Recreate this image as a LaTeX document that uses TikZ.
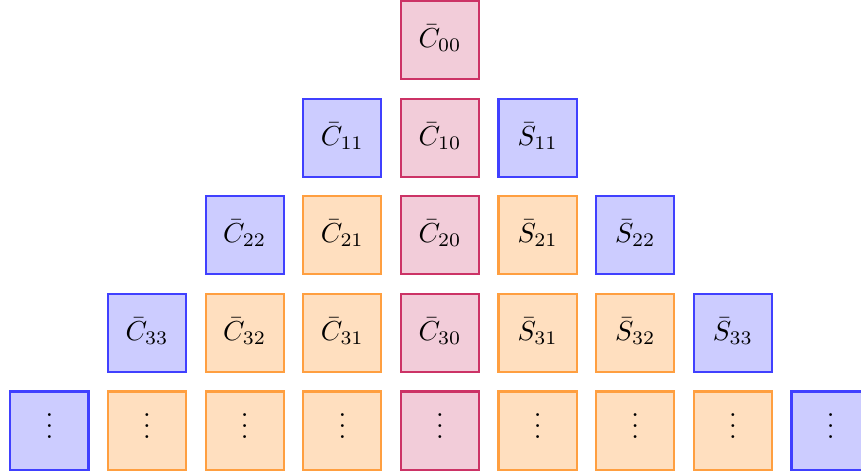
\documentclass[tikz,border=0pt]{standalone}
\usepackage{amsmath,amssymb}

\begin{document}
\begin{tikzpicture}[x=1cm,y=1cm]
\tikzset{
  cell/.style={rectangle,draw,thick,minimum size=1cm,inner sep=0pt,text height=1.5ex,text depth=.25ex},
  centercell/.style={cell,draw=purple!80,fill=purple!20},
  edgecell/.style={cell,draw=blue!75,fill=blue!20},
  innercell/.style={cell,draw=orange!75,fill=orange!25}
}
\useasboundingbox (-5.632,-5.555) rectangle (5.389,0.512);
% row 0
\node[centercell] (n_c00) at (0.00,0.00) {$\bar{C}_{00}$};
% row 1
\node[edgecell] (n_c11) at (-1.25,-1.25) {$\bar{C}_{11}$};
\node[centercell] (n_c10) at (0.00,-1.25) {$\bar{C}_{10}$};
\node[edgecell] (n_s11) at (1.25,-1.25) {$\bar{S}_{11}$};
% row 2
\node[edgecell] (n_c22) at (-2.50,-2.50) {$\bar{C}_{22}$};
\node[innercell] (n_c21) at (-1.25,-2.50) {$\bar{C}_{21}$};
\node[centercell] (n_c20) at (0.00,-2.50) {$\bar{C}_{20}$};
\node[innercell] (n_s21) at (1.25,-2.50) {$\bar{S}_{21}$};
\node[edgecell] (n_s22) at (2.50,-2.50) {$\bar{S}_{22}$};
% row 3
\node[edgecell] (n_c33) at (-3.75,-3.75) {$\bar{C}_{33}$};
\node[innercell] (n_c32) at (-2.50,-3.75) {$\bar{C}_{32}$};
\node[innercell] (n_c31) at (-1.25,-3.75) {$\bar{C}_{31}$};
\node[centercell] (n_c30) at (0.00,-3.75) {$\bar{C}_{30}$};
\node[innercell] (n_s31) at (1.25,-3.75) {$\bar{S}_{31}$};
\node[innercell] (n_s32) at (2.50,-3.75) {$\bar{S}_{32}$};
\node[edgecell] (n_s33) at (3.75,-3.75) {$\bar{S}_{33}$};
% row 4
\node[edgecell] (n_d0) at (-5.00,-5.00) {$\vdots$};
\node[innercell] (n_d1) at (-3.75,-5.00) {$\vdots$};
\node[innercell] (n_d2) at (-2.50,-5.00) {$\vdots$};
\node[innercell] (n_d3) at (-1.25,-5.00) {$\vdots$};
\node[centercell] (n_d4) at (0.00,-5.00) {$\vdots$};
\node[innercell] (n_d5) at (1.25,-5.00) {$\vdots$};
\node[innercell] (n_d6) at (2.50,-5.00) {$\vdots$};
\node[innercell] (n_d7) at (3.75,-5.00) {$\vdots$};
\node[edgecell] (n_d8) at (5.00,-5.00) {$\vdots$};
\end{tikzpicture}
\end{document}
